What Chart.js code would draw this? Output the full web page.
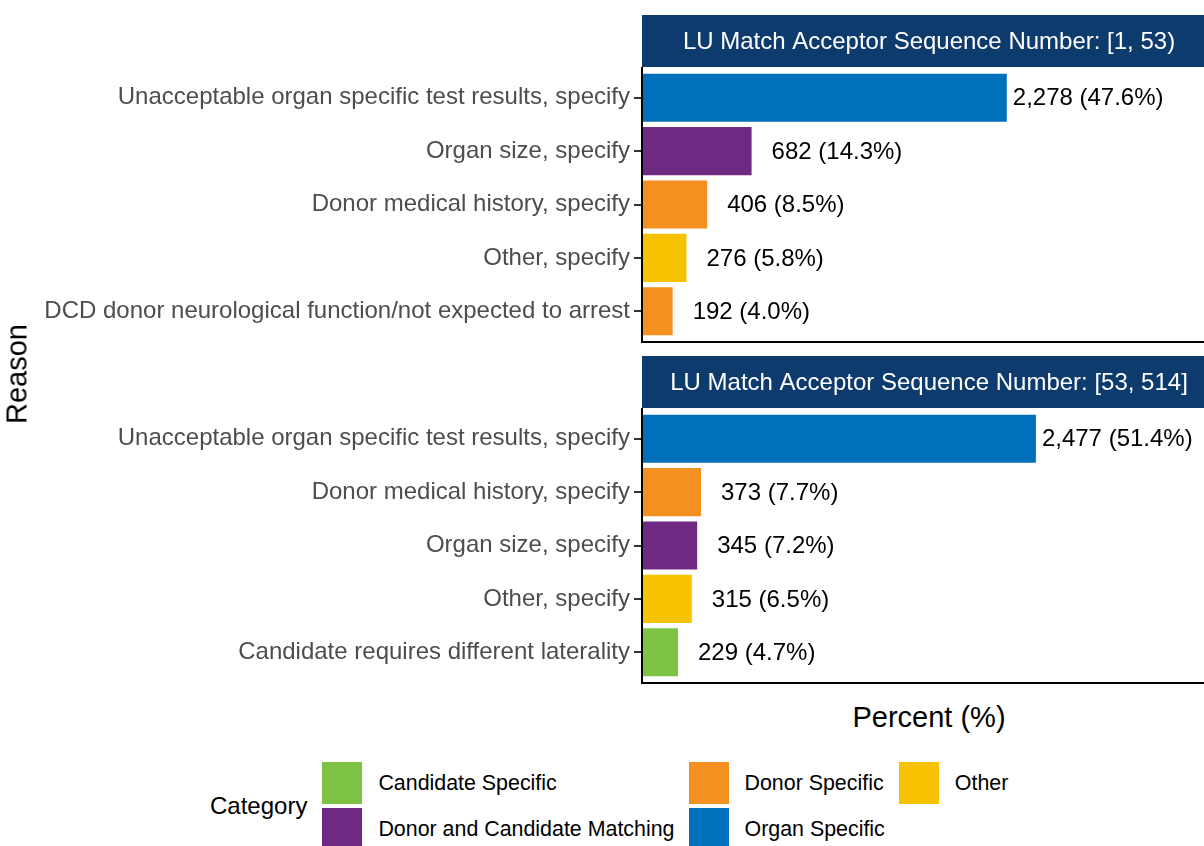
<!DOCTYPE html>
<html>
<head>
<meta charset="utf-8">
<script src="https://cdn.jsdelivr.net/npm/chart.js@4.4.1/dist/chart.umd.min.js"></script>
<style>
  html, body { margin: 0; padding: 0; background: #fff; }
  body { width: 1204px; height: 846px; overflow: hidden; position: relative; font-family: "Liberation Sans", Arial, sans-serif; }
  canvas { position: absolute; left: 0; }
  #panel1 { top: 15px; }
  #panel2 { top: 356px; }
  .axis-title { position: absolute; font-size: 29px; color: #000; line-height: 1; white-space: nowrap; }
  #x-title { left: 642px; width: 574px; text-align: center; top: 703px; }
  #y-title { left: 17px; top: 374px; transform: translate(-50%, -50%) rotate(-90deg); }
  #legend { position: absolute; left: 210px; top: 762px; display: flex; align-items: center; }
  #legend-title { font-size: 24px; margin-right: 15px; }
  #legend-items { display: grid; grid-template-rows: repeat(2, 42px); grid-auto-flow: column; grid-auto-columns: max-content; column-gap: 14px; row-gap: 4px; }
  .item { display: flex; align-items: center; font-size: 21.4px; color: #000; }
  .swatch { width: 40px; height: 42px; margin-right: 16px; }
</style>
</head>
<body>
<canvas id="panel1" width="1216" height="328"></canvas>
<canvas id="panel2" width="1216" height="328"></canvas>
<div id="y-title" class="axis-title">Reason</div>
<div id="x-title" class="axis-title">Percent (%)</div>
<div id="legend">
  <div id="legend-title">Category</div>
  <div id="legend-items"></div>
</div>
<script>
// first acceptor sequence group [1, 53)
const reasons1 = [
  "Unacceptable organ specific test results, specify",
  "Organ size, specify",
  "Donor medical history, specify",
  "Other, specify",
  "DCD donor neurological function/not expected to arrest"
];
const counts1 = [2278, 682, 406, 276, 192];
const percents1 = [47.6, 14.3, 8.5, 5.8, 4.0];
const categories1 = ["Organ Specific", "Donor and Candidate Matching", "Donor Specific", "Other", "Donor Specific"];

// second acceptor sequence group [53, 514]
const reasons2 = [
  "Unacceptable organ specific test results, specify",
  "Donor medical history, specify",
  "Organ size, specify",
  "Other, specify",
  "Candidate requires different laterality"
];
const counts2 = [2477, 373, 345, 315, 229];
const percents2 = [51.4, 7.7, 7.2, 6.5, 4.7];
const categories2 = ["Organ Specific", "Donor Specific", "Donor and Candidate Matching", "Other", "Candidate Specific"];

const legendCategories = ["Candidate Specific", "Donor and Candidate Matching", "Donor Specific", "Organ Specific", "Other"];
const categoryColors = {
  "Candidate Specific": "#7dc242",
  "Donor and Candidate Matching": "#6e2a82",
  "Donor Specific": "#f3901f",
  "Organ Specific": "#0070ba",
  "Other": "#f7c200"
};

const FONT = '"Liberation Sans", Arial, sans-serif';
const STRIP_H = 52;
const INNER_PAD = 4;
const X_MAX = 74.9;

// strip header, panel frame and value labels
const panelDecor = {
  id: 'panelDecor',
  afterDatasetsDraw(chart, args, opts) {
    const ctx = chart.ctx;
    const a = chart.chartArea;
    ctx.save();

    ctx.fillStyle = '#0d3b6e';
    ctx.fillRect(a.left, 0, a.right - a.left, STRIP_H);
    ctx.fillStyle = '#ffffff';
    ctx.font = '24px ' + FONT;
    ctx.textAlign = 'center';
    ctx.textBaseline = 'middle';
    ctx.fillText(opts.title, (a.left + a.right) / 2, STRIP_H / 2 + 1);

    ctx.strokeStyle = '#000';
    ctx.lineWidth = 2;
    ctx.beginPath();
    ctx.moveTo(a.left, STRIP_H);
    ctx.lineTo(a.left, a.bottom + INNER_PAD);
    ctx.lineTo(a.right, a.bottom + INNER_PAD);
    ctx.stroke();

    ctx.fillStyle = '#000';
    ctx.textAlign = 'left';
    const meta = chart.getDatasetMeta(0);
    meta.data.forEach(function(bar, i) {
      const pct = opts.percents[i];
      const text = opts.counts[i].toLocaleString('en-US') + ' (' + pct.toFixed(1) + '%)';
      const gap = pct > 40 ? 6 : 20;
      ctx.fillText(text, bar.x + gap, bar.y + 1);
    });
    ctx.restore();
  }
};

function makePanel(id, title, reasons, counts, percents, categories) {
  const ctx = document.getElementById(id).getContext('2d');
  return new Chart(ctx, {
    type: 'bar',
    data: {
      labels: reasons,
      datasets: [{
        data: percents,
        backgroundColor: categories.map(function(c) { return categoryColors[c]; }),
        borderWidth: 0,
        categoryPercentage: 1,
        barPercentage: 0.9
      }]
    },
    options: {
      indexAxis: 'y',
      responsive: false,
      animation: false,
      layout: { padding: { top: STRIP_H + INNER_PAD, bottom: 5, left: 0, right: 0 } },
      scales: {
        x: { type: 'linear', min: 0, max: X_MAX, display: false },
        y: {
          afterFit: function(scale) {
            scale.width = 642;
            scale.paddingTop = 0;
            scale.paddingBottom = 0;
          },
          border: { display: false },
          grid: { drawOnChartArea: false, offset: false, tickLength: 8, color: '#333333', lineWidth: 2 },
          ticks: { color: '#4d4d4d', font: { family: FONT, size: 24 }, padding: 4, autoSkip: false }
        }
      },
      plugins: {
        legend: { display: false },
        tooltip: { enabled: false },
        panelDecor: { title: title, counts: counts, percents: percents }
      }
    },
    plugins: [panelDecor]
  });
}

makePanel('panel1', 'LU Match Acceptor Sequence Number: [1, 53)', reasons1, counts1, percents1, categories1);
makePanel('panel2', 'LU Match Acceptor Sequence Number: [53, 514]', reasons2, counts2, percents2, categories2);

// legend, filled column by column over two rows
const legendBox = document.getElementById('legend-items');
legendCategories.forEach(function(cat) {
  const item = document.createElement('div');
  item.className = 'item';
  const sw = document.createElement('div');
  sw.className = 'swatch';
  sw.style.background = categoryColors[cat];
  const label = document.createElement('span');
  label.textContent = cat;
  item.appendChild(sw);
  item.appendChild(label);
  legendBox.appendChild(item);
});
</script>
</body>
</html>
